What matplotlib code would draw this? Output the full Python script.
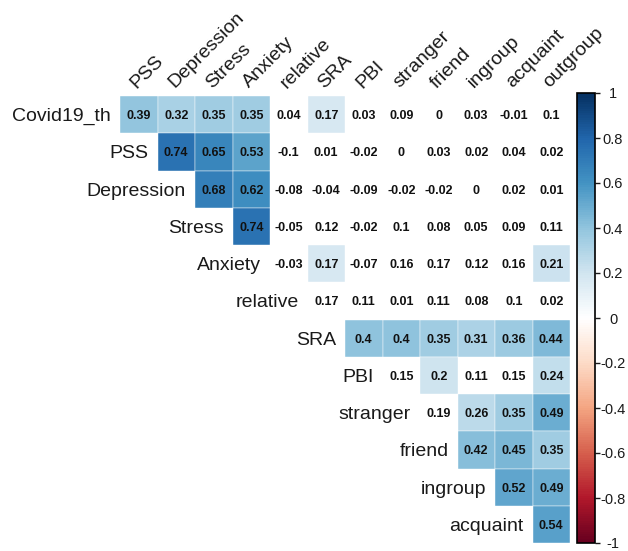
import matplotlib
matplotlib.use("Agg")
import matplotlib.pyplot as plt
import matplotlib.cm as cm
import numpy as np
from matplotlib.colors import LinearSegmentedColormap, Normalize
from matplotlib.patches import Rectangle

plt.rcParams["font.family"] = ["Liberation Sans", "DejaVu Sans"]
plt.rcParams["axes.unicode_minus"] = False

# variables (upper-triangle correlation layout)
row_labels = ["Covid19_th", "PSS", "Depression", "Stress", "Anxiety", "relative",
              "SRA", "PBI", "stranger", "friend", "ingroup", "acquaint"]
col_labels = ["PSS", "Depression", "Stress", "Anxiety", "relative", "SRA",
              "PBI", "stranger", "friend", "ingroup", "acquaint", "outgroup"]

# correlation coefficients, each row starts at its own diagonal position
r_covid = [0.39, 0.32, 0.35, 0.35, 0.04, 0.17, 0.03, 0.09, 0, 0.03, -0.01, 0.1]
r_pss = [0.74, 0.65, 0.53, -0.1, 0.01, -0.02, 0, 0.03, 0.02, 0.04, 0.02]
r_depression = [0.68, 0.62, -0.08, -0.04, -0.09, -0.02, -0.02, 0, 0.02, 0.01]
r_stress = [0.74, -0.05, 0.12, -0.02, 0.1, 0.08, 0.05, 0.09, 0.11]
r_anxiety = [-0.03, 0.17, -0.07, 0.16, 0.17, 0.12, 0.16, 0.21]
r_relative = [0.17, 0.11, 0.01, 0.11, 0.08, 0.1, 0.02]
r_sra = [0.4, 0.4, 0.35, 0.31, 0.36, 0.44]
r_pbi = [0.15, 0.2, 0.11, 0.15, 0.24]
r_stranger = [0.19, 0.26, 0.35, 0.49]
r_friend = [0.42, 0.45, 0.35]
r_ingroup = [0.52, 0.49]
r_acquaint = [0.54]

# significance flags (1 = significant, cell is filled)
s_covid = [1, 1, 1, 1, 0, 1, 0, 0, 0, 0, 0, 0]
s_pss = [1, 1, 1, 0, 0, 0, 0, 0, 0, 0, 0]
s_depression = [1, 1, 0, 0, 0, 0, 0, 0, 0, 0]
s_stress = [1, 0, 0, 0, 0, 0, 0, 0, 0]
s_anxiety = [0, 1, 0, 0, 0, 0, 0, 1]
s_relative = [0, 0, 0, 0, 0, 0, 0]
s_sra = [1, 1, 1, 1, 1, 1]
s_pbi = [0, 1, 0, 0, 1]
s_stranger = [0, 1, 1, 1]
s_friend = [1, 1, 1]
s_ingroup = [1, 1]
s_acquaint = [1]

r_rows = [r_covid, r_pss, r_depression, r_stress, r_anxiety, r_relative,
          r_sra, r_pbi, r_stranger, r_friend, r_ingroup, r_acquaint]
s_rows = [s_covid, s_pss, s_depression, s_stress, s_anxiety, s_relative,
          s_sra, s_pbi, s_stranger, s_friend, s_ingroup, s_acquaint]

cb_ticks = [1, 0.8, 0.6, 0.4, 0.2, 0, -0.2, -0.4, -0.6, -0.8, -1]

rdbu = ["#67001F", "#B2182B", "#D6604D", "#F4A582", "#FDDBC7", "#FFFFFF",
        "#D1E5F0", "#92C5DE", "#4393C3", "#2166AC", "#053061"]
cmap = LinearSegmentedColormap.from_list("corr_rdbu", rdbu, N=200)
norm = Normalize(vmin=-1, vmax=1)

W, H = 628, 551
fig = plt.figure(figsize=(W / 100, H / 100), dpi=100)
ax = fig.add_axes([120 / W, 8 / H, 450 / W, 447 / H])
ax.set_xlim(-0.5, 11.5)
ax.set_ylim(11.5, -0.5)
ax.axis("off")

for i, (vals, sig) in enumerate(zip(r_rows, s_rows)):
    for k, (v, s) in enumerate(zip(vals, sig)):
        j = i + k
        if s:
            ax.add_patch(Rectangle((j - 0.5, i - 0.5), 1, 1,
                                   facecolor=cmap(norm(v)), edgecolor="white",
                                   linewidth=0.3))
        ax.text(j, i, f"{v:g}", ha="center", va="center_baseline",
                fontsize=9, fontweight="bold", color="#111111")
    ax.text(i - 0.5 - 0.24, i, row_labels[i], ha="right", va="center_baseline",
            fontsize=14, color="#1a1a1a")

for j, c in enumerate(col_labels):
    ax.text(j - 0.05, -0.5 - 0.2, c, rotation=45, rotation_mode="anchor",
            ha="left", va="baseline", fontsize=14, color="#1a1a1a")

cax = fig.add_axes([577 / W, 8 / H, 18 / W, 450 / H])
sm = cm.ScalarMappable(norm=norm, cmap=cmap)
cb = fig.colorbar(sm, cax=cax, ticks=cb_ticks)
cb.ax.set_yticklabels([f"{t:g}" for t in cb_ticks])
cb.outline.set_linewidth(1.2)
cb.ax.tick_params(length=3.6, width=1, labelsize=10.5, pad=9.4, colors="#1a1a1a")
for lbl in cb.ax.get_yticklabels():
    lbl.set_horizontalalignment("center")

fig.savefig("out.png", dpi=100)
